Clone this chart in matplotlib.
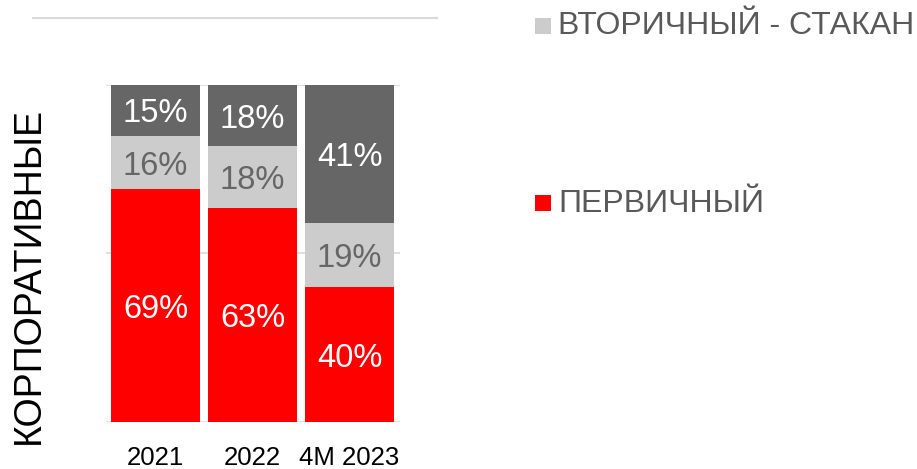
import matplotlib
matplotlib.use("Agg")
import matplotlib.pyplot as plt
from matplotlib.patches import Rectangle
from matplotlib.lines import Line2D
import numpy as np

plt.rcParams['font.family'] = ['Liberation Sans', 'DejaVu Sans']

categories = ["2021", "2022", "4M 2023"]
primary = [69, 63, 40]          # ПЕРВИЧНЫЙ
secondary_stakan = [16, 18, 19] # ВТОРИЧНЫЙ - СТАКАН
secondary_other = [15, 18, 41]  # dark gray (no legend entry visible)
series_names = ["ПЕРВИЧНЫЙ", "ВТОРИЧНЫЙ - СТАКАН", ""]
colors = ["#ff0000", "#cccccc", "#666666"]
label_colors = ["white", "#666666", "white"]
ylabel = "КОРПОРАТИВНЫЕ"

W, H = 917, 469
fig = plt.figure(figsize=(W / 100, H / 100), dpi=100)
ax = fig.add_axes([106 / W, 1 - 422 / H, (400 - 106) / W, (422 - 85) / H])

data = np.array([primary, secondary_stakan, secondary_other], dtype=float)
totals = data.sum(axis=0)
pct = data / totals * 100
x = np.arange(len(categories))
bottom = np.zeros(len(categories))
for i in range(3):
    bars = ax.bar(x, pct[i], bottom=bottom, width=0.915, color=colors[i], zorder=3)
    for j, b in enumerate(bars):
        ax.text(b.get_x() + b.get_width() / 2, bottom[j] + pct[i][j] / 2,
                f"{int(data[i][j])}%", ha="center", va="center_baseline",
                color=label_colors[i], fontsize=23.5, zorder=4)
    bottom += pct[i]

ax.set_xlim(-0.51, 2.52)
ax.set_ylim(0, 100)
ax.set_yticks([0, 50, 100])
ax.yaxis.grid(True, color="#d9d9d9", linewidth=1.2, zorder=0)
ax.tick_params(axis="y", left=False, labelleft=False)
ax.tick_params(axis="x", bottom=False, pad=14, labelsize=18.5)
ax.set_xticks(x)
ax.set_xticklabels(categories)
for s in ax.spines.values():
    s.set_visible(False)

# y label
fig.text(29 / W, 1 - 276 / H, ylabel, rotation=90, ha="center", va="center",
         fontsize=27, color="black")

# top decorative line
fig.add_artist(Line2D([33 / W, 437 / W], [1 - 18 / H, 1 - 18 / H],
                      color="#d9d9d9", linewidth=1.5))

# legend
leg_items = [(series_names[1], colors[1], 26.5), (series_names[0], colors[0], 203.5)]
for name, c, yc in leg_items:
    fig.add_artist(Rectangle((535 / W, 1 - (yc + 8) / H), 16 / W, 16 / H,
                             facecolor=c, edgecolor="none", transform=fig.transFigure))
    fig.text(558 / W, 1 - yc / H, name, ha="left", va="center",
             fontsize=23, color="#595959")

fig.savefig("out.png", dpi=100)
